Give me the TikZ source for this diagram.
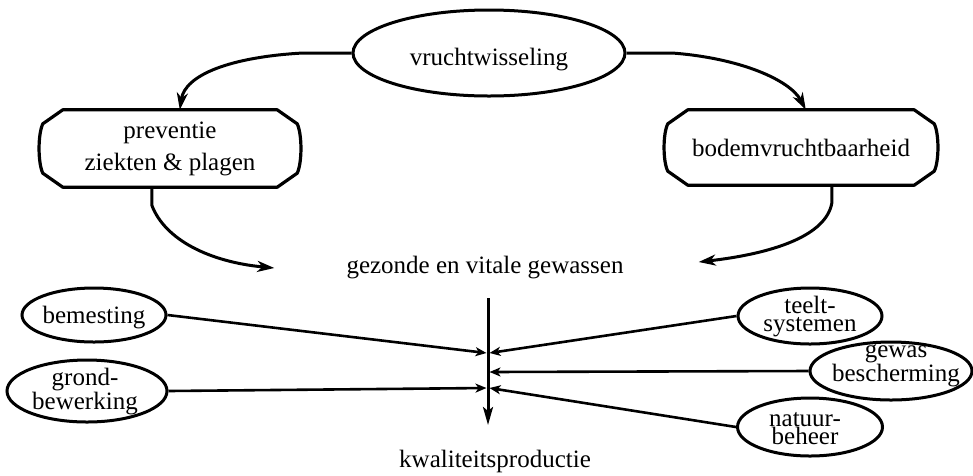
\documentclass[tikz,border=0pt]{standalone}
\usepackage{fontspec}
\setmainfont{Liberation Serif}
\usetikzlibrary{arrows.meta,shapes.geometric,calc}

\begin{document}
\begin{tikzpicture}[x=1pt,y=-1pt,
  every node/.style={font=\fontsize{25}{32}\selectfont},
  ell/.style={ellipse, draw, line width=3pt, inner sep=0pt},
  chambox/.style={inner sep=0pt, align=center},
  lbl/.style={align=center, inner sep=0pt, anchor=base, font=\fontsize{25}{18}\selectfont},
  plain/.style={inner sep=0pt, anchor=base},
  outline/.style={line width=3.2pt, line join=round},
  flow/.style={line width=3pt, -{Stealth[length=17pt,width=11pt,inset=5pt]}},
  feed/.style={line width=2.6pt, -{Stealth[length=11pt,width=9pt,inset=3pt]}},
  down/.style={line width=3pt, -{Stealth[length=18pt,width=10pt,inset=4pt]}},
]
\useasboundingbox (0,0) rectangle (973,475);

% top: crop rotation
\node[ell, minimum width=272pt, minimum height=86pt, text height=29pt, text depth=5pt]
  (vr) at (489,53) {vruchtwisseling};

% the two chamfered boxes
\node[chambox, minimum width=254pt, minimum height=77pt] (prev) at (170,148.5)
  {preventie\\ziekten \& plagen};
\node[chambox, minimum width=266pt, minimum height=75pt] (bodem) at (801,147.5)
  {bodemvruchtbaarheid};
\foreach \n in {prev,bodem}{
  \draw[outline] ($(\n.north west)+(20,0)$) -- ($(\n.north east)+(-20,0)$)
    -- ($(\n.north east)+(0,14)$)
    .. controls ($(\n.east)+(5,-14)$) and ($(\n.east)+(5,14)$) .. ($(\n.south east)+(0,-14)$)
    -- ($(\n.south east)+(-20,0)$) -- ($(\n.south west)+(20,0)$)
    -- ($(\n.south west)+(0,-14)$)
    .. controls ($(\n.west)+(-5,14)$) and ($(\n.west)+(-5,-14)$) .. ($(\n.north west)+(0,14)$)
    -- cycle;
}

% centre texts
\node[plain] (gez) at (485,273) {gezonde en vitale gewassen};
\node[plain] (kwal) at (495,467) {kwaliteitsproductie};

% small ellipses
\node[ell, minimum width=144pt, minimum height=54pt] (bem) at (94,315) {};
\node[ell, minimum width=160pt, minimum height=62pt] (grond) at (87,391) {};
\node[ell, minimum width=144pt, minimum height=56pt] (teelt) at (810,316) {};
\node[ell, minimum width=162pt, minimum height=58pt] (gw) at (891,371) {};
\node[ell, minimum width=145pt, minimum height=58pt] (nat) at (810,427) {};

\node[plain] (bemt) at (94,323) {bemesting};
\node[lbl] (grondt) at (85,409) {grond-\\bewerking};
\node[lbl] (teeltt) at (810,331) {teelt-\\systemen};
\node[lbl] (gwt) at (896,381) {gewas\\bescherming};
\node[lbl] (natt) at (805,444) {natuur-\\beheer};

% curved arrows of the cycle
\draw[flow] (vr.west) -- (303,53) .. controls (230,57) and (185,75) .. ($(prev.north west)+(137,0)$);
\draw[flow] (vr.east) -- (672,53) .. controls (740,58) and (790,80) .. ($(bodem.north west)+(138,0)$);
\draw[flow] ($(prev.south west)+(109,0)$) -- ++(0,18) .. controls (165,240) and (210,262) .. ($(gez.base west)+(-72,-5)$);
\draw[flow] ($(bodem.south west)+(164,0)$) -- ++(0,18) .. controls (825,240) and (760,255) .. ($(gez.base east)+(75,-11)$);

% central stem and the inputs
\coordinate (vtop) at (488,298);
\coordinate (vbot) at (488,425);
\coordinate (jl1) at (486.5,353);
\coordinate (jr1) at (489.5,353);
\coordinate (jr2) at (489.5,372);
\coordinate (jl3) at (486.5,388);
\coordinate (jr3) at (489.5,388);
\draw[down] (vtop) -- (vbot);

\draw[feed] (bem.east) -- (jl1);
\draw[feed] (grond.east) -- (jl3);
\draw[feed] (teelt.west) -- (jr1);
\draw[feed] (gw.west) -- (jr2);
\draw[feed] (nat.west) -- (jr3);
\end{tikzpicture}
\end{document}
